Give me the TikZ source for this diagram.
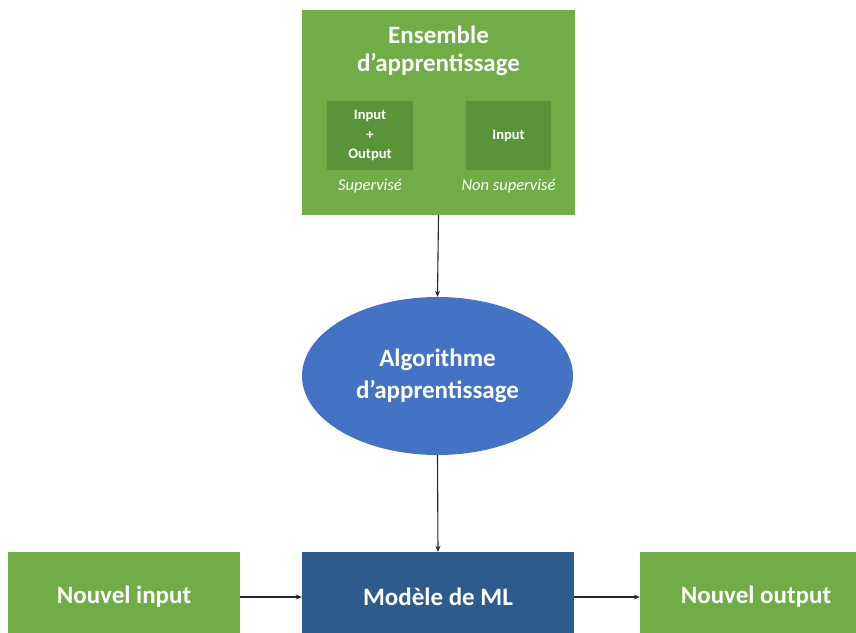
\documentclass[tikz,border=0pt]{standalone}
\usepackage{fontspec}
\setmainfont{Carlito}
\usetikzlibrary{shapes.geometric, arrows.meta}
\definecolor{office-green}{HTML}{70AD47}
\definecolor{inner-green}{HTML}{5A9438}
\definecolor{office-blue}{HTML}{4472C4}
\definecolor{model-blue}{HTML}{2D5B8C}

\begin{document}
\begin{tikzpicture}[x=1pt, y=1pt,
    every node/.style={text=white, font=\bfseries},
    greenbox/.style={fill=office-green, inner sep=0pt},
    innerbox/.style={fill=inner-green, inner sep=0pt, font=\bfseries\fontsize{14.5}{19.5}\selectfont, align=center},
    flow/.style={-{Stealth[length=6pt, width=5pt]}, line width=1.1pt, draw=black!85}]
    \useasboundingbox (0, 0) rectangle (856, -632);
    % training set with its two kinds of data
    \node[greenbox, minimum width=273, minimum height=205] (train) at (438.5, -112.5) {};
    \node[font=\bfseries\fontsize{25}{28}\selectfont, align=center] (traintitle) at (438.5, -51)
      {Ensemble\\d’apprentissage};
    \node[innerbox, minimum width=86, minimum height=69] (sup) at (370, -135.5)
      {Input\\+\\Output};
    \node[innerbox, minimum width=85, minimum height=69] (unsup) at (508.5, -135.5)
      {Input};
    \node[font=\itshape\fontsize{16.5}{18}\selectfont] (suplab) at (370, -186) {Supervisé};
    \node[font=\itshape\fontsize{16.5}{18}\selectfont] (unsuplab) at (508.5, -186) {Non supervisé};
    % learning algorithm
    \node[ellipse, fill=office-blue, minimum width=271, minimum height=158, inner sep=0pt,
      font=\bfseries\fontsize{25}{32}\selectfont, align=center] (algo) at (437.5, -376)
      {Algorithme\\d’apprentissage};
    % model and its new data
    \node[fill=model-blue, minimum width=272, minimum height=90, inner sep=0pt,
      font=\bfseries\fontsize{25}{28}\selectfont] (model) at (438, -597) {Modèle de ML};
    \node[greenbox, minimum width=232, minimum height=90,
      font=\bfseries\fontsize{25}{28}\selectfont] (newin) at (124, -597) {Nouvel input};
    \node[greenbox, minimum width=232, minimum height=90,
      font=\bfseries\fontsize{25}{28}\selectfont] (newout) at (756, -597) {Nouvel output};
    \draw[flow] (train.south) -- (algo.north);
    \draw[flow] (algo.south) -- (model.north);
    \draw[flow] (newin.east) -- (model.west);
    \draw[flow] (model.east) -- (newout.west);
  \end{tikzpicture}
\end{document}
